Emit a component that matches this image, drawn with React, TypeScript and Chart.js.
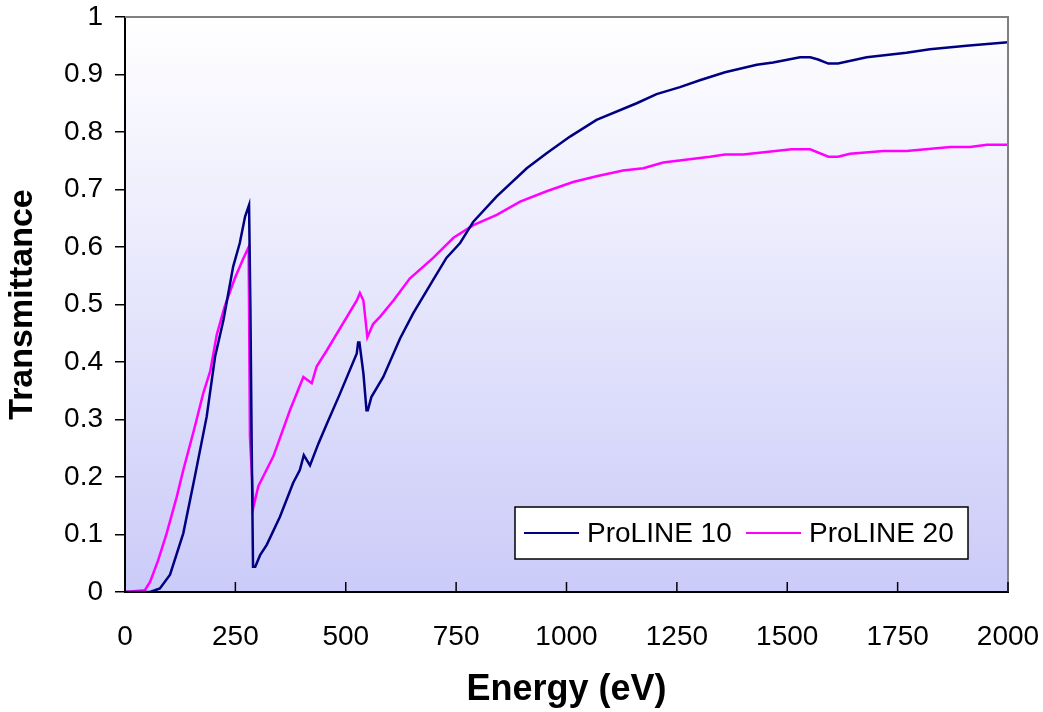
import React, { useEffect, useRef } from 'react';
import { Chart, registerables } from 'chart.js';

Chart.register(...registerables);

const SERIES_NAMES = ['ProLINE 10', 'ProLINE 20'];
const SERIES_COLORS = ['#000080', '#ff00ff'];

const ENERGY_10 = [0, 57, 79, 102, 132, 158, 185, 204, 223, 245, 260, 272, 281, 284, 287, 290, 295, 306, 321, 351, 381, 396, 405, 419, 438, 457, 487, 525, 528, 531, 540, 547, 550, 558, 585, 623, 653, 698, 728, 759, 789, 842, 910, 955, 1008, 1068, 1159, 1204, 1257, 1302, 1359, 1431, 1468, 1529, 1552, 1570, 1593, 1615, 1680, 1770, 1823, 1906, 2000];
const TRANS_10 = [0, 0, 0.006, 0.03, 0.102, 0.2, 0.305, 0.409, 0.473, 0.566, 0.607, 0.653, 0.673, 0.496, 0.253, 0.044, 0.044, 0.064, 0.082, 0.131, 0.19, 0.212, 0.238, 0.22, 0.258, 0.292, 0.345, 0.415, 0.434, 0.434, 0.38, 0.316, 0.316, 0.339, 0.374, 0.441, 0.485, 0.543, 0.581, 0.607, 0.644, 0.688, 0.737, 0.763, 0.792, 0.821, 0.85, 0.866, 0.878, 0.89, 0.904, 0.917, 0.921, 0.93, 0.93, 0.926, 0.919, 0.919, 0.93, 0.938, 0.944, 0.95, 0.956];

const ENERGY_20 = [0, 45, 57, 75, 94, 117, 132, 158, 177, 193, 208, 226, 249, 268, 280, 283, 291, 302, 336, 374, 404, 423, 434, 457, 525, 532, 540, 549, 562, 578, 608, 645, 698, 744, 789, 842, 895, 955, 1015, 1068, 1128, 1174, 1219, 1325, 1359, 1400, 1510, 1552, 1593, 1615, 1642, 1718, 1770, 1869, 1914, 1952, 2000];
const TRANS_20 = [0, 0.003, 0.018, 0.055, 0.101, 0.165, 0.212, 0.287, 0.345, 0.384, 0.448, 0.497, 0.546, 0.58, 0.6, 0.27, 0.148, 0.184, 0.236, 0.317, 0.374, 0.363, 0.392, 0.42, 0.507, 0.52, 0.507, 0.443, 0.466, 0.479, 0.507, 0.545, 0.581, 0.616, 0.638, 0.656, 0.679, 0.697, 0.713, 0.723, 0.733, 0.737, 0.747, 0.757, 0.761, 0.761, 0.77, 0.77, 0.757, 0.757, 0.762, 0.767, 0.767, 0.774, 0.774, 0.778, 0.778];

const X_MIN = 0;
const X_MAX = 2000;
const X_STEP = 250;
const Y_MIN = 0;
const Y_MAX = 1;
const Y_STEP = 0.1;
const X_TITLE = 'Energy (eV)';
const Y_TITLE = 'Transmittance';

const FONT = '"Liberation Sans", Arial, Helvetica, sans-serif';

function toPoints(xs: number[], ys: number[]) {
  const n = Math.min(xs.length, ys.length);
  const out: { x: number; y: number }[] = [];
  for (let i = 0; i < n; i++) out.push({ x: xs[i], y: ys[i] });
  return out;
}

export default function App() {
  const ref = useRef<HTMLCanvasElement>(null);

  useEffect(() => {
    document.body.style.margin = '0';
    if (!ref.current) return;

    const decorPlugin = {
      id: 'decor',
      beforeDraw(chart: any) {
        const { ctx, chartArea: a } = chart;
        const g = ctx.createLinearGradient(0, a.top, 0, a.bottom);
        g.addColorStop(0, '#ffffff');
        g.addColorStop(1, '#cbcbf9');
        ctx.save();
        ctx.fillStyle = g;
        ctx.fillRect(a.left, a.top, a.right - a.left, a.bottom - a.top);
        ctx.restore();
      },
      afterDraw(chart: any) {
        const { ctx, chartArea: a } = chart;
        ctx.save();
        // top / right frame
        ctx.strokeStyle = '#808080';
        ctx.lineWidth = 2;
        ctx.beginPath();
        ctx.moveTo(a.left, a.top);
        ctx.lineTo(a.right, a.top);
        ctx.lineTo(a.right, a.bottom);
        ctx.stroke();
        // inward x ticks
        const xs = chart.scales.x;
        ctx.strokeStyle = '#000';
        ctx.lineWidth = 1.5;
        xs.ticks.forEach((t: any) => {
          const px = xs.getPixelForValue(t.value);
          ctx.beginPath();
          ctx.moveTo(px, a.bottom);
          ctx.lineTo(px, a.bottom - 10);
          ctx.stroke();
        });
        // legend
        const bx = 515, by = 507, bw = 453, bh = 52;
        ctx.fillStyle = '#ffffff';
        ctx.fillRect(bx, by, bw, bh);
        ctx.strokeStyle = '#000';
        ctx.lineWidth = 1.5;
        ctx.strokeRect(bx, by, bw, bh);
        const cy = by + bh / 2;
        const starts = [524, 746];
        ctx.font = `28px ${FONT}`;
        ctx.textBaseline = 'middle';
        ctx.textAlign = 'left';
        chart.data.datasets.forEach((ds: any, i: number) => {
          const sx = starts[i];
          ctx.strokeStyle = ds.borderColor;
          ctx.lineWidth = 2;
          ctx.beginPath();
          ctx.moveTo(sx, cy);
          ctx.lineTo(sx + 55, cy);
          ctx.stroke();
          ctx.fillStyle = '#000';
          ctx.fillText(ds.label, sx + 63, cy + 1);
        });
        ctx.restore();
      },
    };

    const chart = new Chart(ref.current, {
      type: 'line',
      data: {
        datasets: [
          {
            label: SERIES_NAMES[0],
            data: toPoints(ENERGY_10, TRANS_10),
            borderColor: SERIES_COLORS[0],
            backgroundColor: SERIES_COLORS[0],
            borderWidth: 2.5,
            pointRadius: 0,
            tension: 0,
            fill: false,
          },
          {
            label: SERIES_NAMES[1],
            data: toPoints(ENERGY_20, TRANS_20),
            borderColor: SERIES_COLORS[1],
            backgroundColor: SERIES_COLORS[1],
            borderWidth: 2.5,
            pointRadius: 0,
            tension: 0,
            fill: false,
          },
        ],
      },
      options: {
        animation: false,
        responsive: true,
        maintainAspectRatio: false,
        parsing: false as any,
        layout: { padding: { top: 17, right: 35, left: 0, bottom: 0 } },
        plugins: {
          legend: { display: false },
          tooltip: { enabled: false },
        },
        scales: {
          x: {
            type: 'linear',
            min: X_MIN,
            max: X_MAX,
            ticks: {
              stepSize: X_STEP,
              color: '#000',
              font: { family: FONT, size: 28 },
              padding: 28,
              maxRotation: 0,
              autoSkip: false,
              callback: (v: any) => String(v),
            },
            grid: { display: false, drawTicks: false },
            border: { display: true, color: '#000', width: 2 },
            title: {
              display: true,
              text: X_TITLE,
              color: '#000',
              font: { family: FONT, size: 36, weight: 'bold' },
              padding: { top: 1, bottom: 0 },
            },
            afterFit(s: any) {
              s.height = 120;
              s.paddingLeft = 0;
              s.paddingRight = 0;
            },
          },
          y: {
            type: 'linear',
            min: Y_MIN,
            max: Y_MAX,
            ticks: {
              stepSize: Y_STEP,
              color: '#000',
              font: { family: FONT, size: 28 },
              padding: 12,
              callback: (v: any) => String(Math.round(Number(v) * 10) / 10),
            },
            grid: {
              drawOnChartArea: false,
              drawTicks: true,
              tickLength: 10,
              color: '#000',
              lineWidth: 1.5,
            },
            border: { display: true, color: '#000', width: 2 },
            title: {
              display: true,
              text: Y_TITLE,
              color: '#000',
              font: { family: FONT, size: 34, weight: 'bold' },
              padding: { top: 2, bottom: 0 },
            },
            afterFit(s: any) {
              s.width = 125;
              s.paddingTop = 0;
              s.paddingBottom = 0;
            },
          },
        },
      },
      plugins: [decorPlugin],
    });

    return () => chart.destroy();
  }, []);

  return (
    <div style={{ position: 'relative', width: 1043, height: 712 }}>
      <canvas ref={ref} />
    </div>
  );
}
